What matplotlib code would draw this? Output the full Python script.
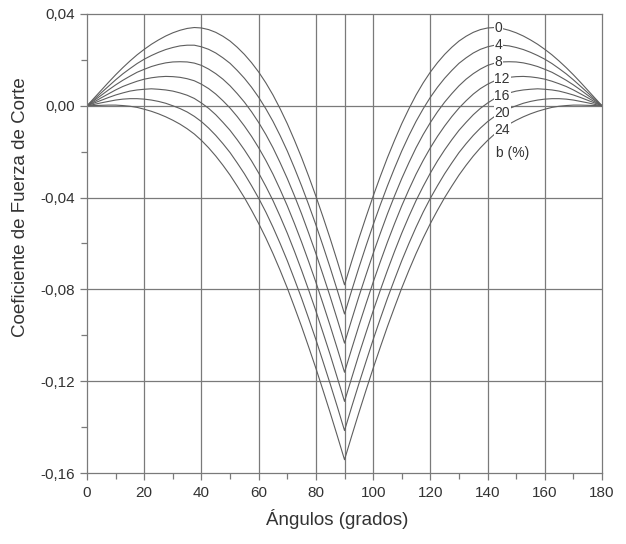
import matplotlib
matplotlib.use('Agg')

import matplotlib.pyplot as plt
from matplotlib.ticker import MultipleLocator, FuncFormatter

# --- data: angle (deg) every 2.5, one list per b (%) ---
angles = [i * 2.5 for i in range(73)]
b_labels = ['0', '4', '8', '12', '16', '20', '24']

c_b0 = [0, 0.0034, 0.0068, 0.0102, 0.0135, 0.0166, 0.0195, 0.0222, 0.0246, 0.0268,
        0.0287, 0.0304, 0.0318, 0.0329, 0.0337, 0.0341, 0.0339, 0.0332, 0.0320, 0.0303,
        0.0282, 0.0255, 0.0224, 0.0188, 0.0147, 0.0100, 0.0047, -0.0013, -0.0078, -0.0150,
        -0.0226, -0.0308, -0.0394, -0.0485, -0.0579, -0.0678, -0.0780,
        -0.0678, -0.0579, -0.0485, -0.0394, -0.0308, -0.0226, -0.0150, -0.0078, -0.0013,
        0.0047, 0.0100, 0.0147, 0.0188, 0.0224, 0.0255, 0.0282, 0.0303, 0.0320, 0.0332,
        0.0339, 0.0341, 0.0337, 0.0329, 0.0318, 0.0304, 0.0287, 0.0268, 0.0246, 0.0222,
        0.0195, 0.0166, 0.0135, 0.0102, 0.0068, 0.0034, 0]
c_b4 = [0, 0.0028, 0.0057, 0.0085, 0.0113, 0.0139, 0.0162, 0.0184, 0.0203, 0.0219,
        0.0233, 0.0245, 0.0254, 0.0261, 0.0264, 0.0264, 0.0257, 0.0246, 0.0230, 0.0209,
        0.0185, 0.0154, 0.0120, 0.0081, 0.0037, -0.0013, -0.0068, -0.0130, -0.0197, -0.0271,
        -0.0349, -0.0432, -0.0519, -0.0611, -0.0706, -0.0805, -0.0907,
        -0.0805, -0.0706, -0.0611, -0.0519, -0.0432, -0.0349, -0.0271, -0.0197, -0.0130,
        -0.0068, -0.0013, 0.0037, 0.0081, 0.0120, 0.0154, 0.0185, 0.0209, 0.0230, 0.0246,
        0.0257, 0.0264, 0.0264, 0.0261, 0.0254, 0.0245, 0.0233, 0.0219, 0.0203, 0.0184,
        0.0162, 0.0139, 0.0113, 0.0085, 0.0057, 0.0028, 0]
c_b8 = [0, 0.0023, 0.0046, 0.0069, 0.0091, 0.0111, 0.0129, 0.0146, 0.0159, 0.0171,
        0.0180, 0.0187, 0.0191, 0.0192, 0.0191, 0.0186, 0.0176, 0.0160, 0.0140, 0.0116,
        0.0087, 0.0053, 0.0016, -0.0026, -0.0073, -0.0125, -0.0183, -0.0248, -0.0317, -0.0392,
        -0.0471, -0.0556, -0.0644, -0.0737, -0.0832, -0.0932, -0.1034,
        -0.0932, -0.0832, -0.0737, -0.0644, -0.0556, -0.0471, -0.0392, -0.0317, -0.0248,
        -0.0183, -0.0125, -0.0073, -0.0026, 0.0016, 0.0053, 0.0087, 0.0116, 0.0140, 0.0160,
        0.0176, 0.0186, 0.0191, 0.0192, 0.0191, 0.0187, 0.0180, 0.0171, 0.0159, 0.0146,
        0.0129, 0.0111, 0.0091, 0.0069, 0.0046, 0.0023, 0]
c_b12 = [0, 0.0017, 0.0035, 0.0052, 0.0069, 0.0084, 0.0096, 0.0107, 0.0116, 0.0122,
         0.0126, 0.0128, 0.0127, 0.0124, 0.0118, 0.0109, 0.0094, 0.0075, 0.0051, 0.0022,
         -0.0010, -0.0047, -0.0088, -0.0133, -0.0183, -0.0238, -0.0298, -0.0365, -0.0436, -0.0513,
         -0.0594, -0.0680, -0.0769, -0.0863, -0.0959, -0.1059, -0.1161,
         -0.1059, -0.0959, -0.0863, -0.0769, -0.0680, -0.0594, -0.0513, -0.0436, -0.0365,
         -0.0298, -0.0238, -0.0183, -0.0133, -0.0088, -0.0047, -0.0010, 0.0022, 0.0051, 0.0075,
         0.0094, 0.0109, 0.0118, 0.0124, 0.0127, 0.0128, 0.0126, 0.0122, 0.0116, 0.0107,
         0.0096, 0.0084, 0.0069, 0.0052, 0.0035, 0.0017, 0]
c_b16 = [0, 0.0012, 0.0024, 0.0036, 0.0047, 0.0056, 0.0064, 0.0069, 0.0072, 0.0074,
         0.0072, 0.0069, 0.0064, 0.0056, 0.0046, 0.0032, 0.0012, -0.0011, -0.0039, -0.0072,
         -0.0107, -0.0148, -0.0192, -0.0240, -0.0293, -0.0351, -0.0413, -0.0482, -0.0555, -0.0634,
         -0.0717, -0.0804, -0.0894, -0.0989, -0.1085, -0.1186, -0.1288,
         -0.1186, -0.1085, -0.0989, -0.0894, -0.0804, -0.0717, -0.0634, -0.0555, -0.0482,
         -0.0413, -0.0351, -0.0293, -0.0240, -0.0192, -0.0148, -0.0107, -0.0072, -0.0039, -0.0011,
         0.0012, 0.0032, 0.0046, 0.0056, 0.0064, 0.0069, 0.0072, 0.0074, 0.0072, 0.0069,
         0.0064, 0.0056, 0.0047, 0.0036, 0.0024, 0.0012, 0]
c_b20 = [0, 0.0006, 0.0013, 0.0019, 0.0025, 0.0029, 0.0031, 0.0031, 0.0029, 0.0025,
         0.0019, 0.0011, 0.0000, -0.0012, -0.0027, -0.0046, -0.0069, -0.0097, -0.0129, -0.0165,
         -0.0204, -0.0249, -0.0296, -0.0348, -0.0403, -0.0463, -0.0529, -0.0600, -0.0675, -0.0756,
         -0.0839, -0.0928, -0.1019, -0.1115, -0.1212, -0.1312, -0.1415,
         -0.1312, -0.1212, -0.1115, -0.1019, -0.0928, -0.0839, -0.0756, -0.0675, -0.0600,
         -0.0529, -0.0463, -0.0403, -0.0348, -0.0296, -0.0249, -0.0204, -0.0165, -0.0129, -0.0097,
         -0.0069, -0.0046, -0.0027, -0.0012, 0.0000, 0.0011, 0.0019, 0.0025, 0.0029, 0.0031,
         0.0031, 0.0029, 0.0025, 0.0019, 0.0013, 0.0006, 0]
c_b24 = [0, 0.0001, 0.0002, 0.0003, 0.0003, 0.0001, -0.0002, -0.0007, -0.0015, -0.0024,
         -0.0035, -0.0048, -0.0063, -0.0080, -0.0100, -0.0123, -0.0151, -0.0183, -0.0219, -0.0259,
         -0.0302, -0.0350, -0.0400, -0.0455, -0.0513, -0.0576, -0.0644, -0.0717, -0.0794, -0.0877,
         -0.0962, -0.1052, -0.1144, -0.1240, -0.1338, -0.1439, -0.1542,
         -0.1439, -0.1338, -0.1240, -0.1144, -0.1052, -0.0962, -0.0877, -0.0794, -0.0717,
         -0.0644, -0.0576, -0.0513, -0.0455, -0.0400, -0.0350, -0.0302, -0.0259, -0.0219, -0.0183,
         -0.0151, -0.0123, -0.0100, -0.0080, -0.0063, -0.0048, -0.0035, -0.0024, -0.0015, -0.0007,
         -0.0002, 0.0001, 0.0003, 0.0003, 0.0002, 0.0001, 0]

curves = [c_b0, c_b4, c_b8, c_b12, c_b16, c_b20, c_b24]

# --- plotting ---
plt.rcParams['font.family'] = ['Liberation Sans', 'DejaVu Sans']
fig = plt.figure(figsize=(6.26, 5.44), dpi=100)
ax = fig.add_axes([0.139, 0.1305, 0.8227, 0.8438])

grid_c = '#7a7a7a'
line_c = '#5e5e5e'
text_c = '#333333'

for xv in [20, 40, 60, 80, 90, 100, 120, 140, 160]:
    ax.axvline(xv, color=grid_c, lw=0.9, zorder=1)
for yv in [0, -0.04, -0.08, -0.12]:
    ax.axhline(yv, color=grid_c, lw=0.9, zorder=1)

for vals in curves:
    ax.plot(angles, vals, color=line_c, lw=0.8, zorder=2)

# series labels on the right hump
lab_y = [0.0340, 0.0265, 0.0190, 0.0117, 0.0044, -0.0032, -0.0105]
for lab, yy in zip(b_labels, lab_y):
    ax.text(142.4, yy, lab, fontsize=10, color=text_c, ha='left', va='center', zorder=3,
            bbox=dict(facecolor='white', edgecolor='none', pad=0.6))
ax.text(142.8, -0.0205, 'b (%)', fontsize=10, color=text_c, ha='left', va='center', zorder=3)

ax.set_xlim(0, 180)
ax.set_ylim(-0.16, 0.04)
ax.xaxis.set_major_locator(MultipleLocator(20))
ax.xaxis.set_minor_locator(MultipleLocator(10))
ax.yaxis.set_major_locator(MultipleLocator(0.04))
ax.yaxis.set_minor_locator(MultipleLocator(0.02))
ax.yaxis.set_major_formatter(FuncFormatter(lambda v, p: f'{v:.2f}'.replace('.', ',').replace('-0,00', '0,00')))

ax.tick_params(which='both', direction='out', color=grid_c, labelsize=11, labelcolor=text_c, width=0.9)
ax.tick_params(which='major', length=5, pad=4)
ax.tick_params(which='minor', length=4)
for s in ax.spines.values():
    s.set_color(grid_c)
    s.set_linewidth(0.9)

ax.set_xlabel('Ángulos (grados)', fontsize=13.5, color=text_c)
ax.set_ylabel('Coeficiente de Fuerza de Corte', fontsize=13.5, color=text_c)
ax.xaxis.set_label_coords(0.485, -0.078)
ax.yaxis.set_label_coords(-0.112, 0.58)

plt.savefig('out.png', dpi=100)
